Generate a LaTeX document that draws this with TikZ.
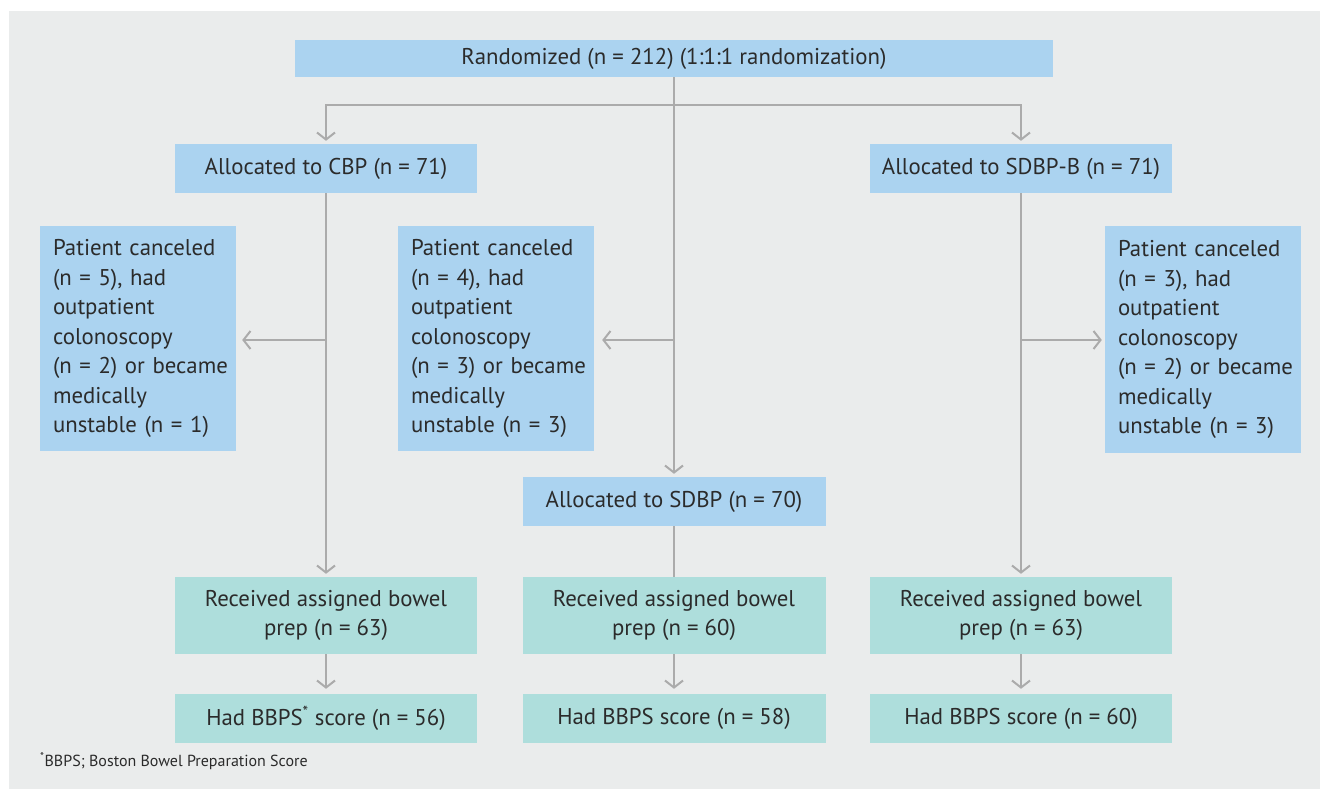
\documentclass[tikz,border=0pt]{standalone}
\usepackage{fontspec}
\setmainfont{PT Sans}
\usetikzlibrary{arrows.meta}
\definecolor{bgc}{HTML}{EAECEC}
\definecolor{boxb}{HTML}{ABD3F0}
\definecolor{boxt}{HTML}{AEDEDC}
\definecolor{lnc}{HTML}{ABABAB}
\definecolor{txc}{HTML}{2B2B2B}
\tikzset{
  bx/.style={fill=boxb, draw=none, inner sep=0pt, text=txc, font=\fontsize{22.8}{29.5}\selectfont},
  tbx/.style={bx, fill=boxt},
  cbx/.style={bx, minimum width=196pt, minimum height=225pt, text width=170pt, align=left},
  ln/.style={draw=lnc, line width=2pt},
  arr/.style={ln, -{Straight Barb[length=7pt,width=18pt,line width=2pt]}, shorten >=3pt},
}
\begin{document}
\begin{tikzpicture}[x=1pt,y=-1pt]
\useasboundingbox (0,0) rectangle (1320,789);
\fill[white] (0,0) rectangle (1320,789);
\fill[bgc] (9,11) rectangle (1320,789);

\node[bx, minimum width=758pt, minimum height=37pt] (rand) at (674,58.5) {Randomized (n = 212) (1:1:1 randomization)};
\node[bx, minimum width=302pt, minimum height=49pt] (cbp) at (326,168.5) {Allocated to CBP (n = 71)};
\node[bx, minimum width=302pt, minimum height=49pt] (sdbpb) at (1021,168.5) {Allocated to SDBP-B (n = 71)};

\node[cbx] (can1) at (138,338.5) {Patient canceled\\(n = 5), had\\outpatient\\colonoscopy\\\mbox{(n = 2) or became}\\medically\\unstable (n = 1)};
\node[cbx] (can2) at (496,338.5) {Patient canceled\\(n = 4), had\\outpatient\\colonoscopy\\\mbox{(n = 3) or became}\\medically\\unstable (n = 3)};
\node[cbx, minimum height=227pt] (can3) at (1203,339.5) {Patient canceled\\(n = 3), had\\outpatient\\colonoscopy\\\mbox{(n = 2) or became}\\medically\\unstable (n = 3)};

\node[bx, minimum width=303pt, minimum height=49pt] (sdbp) at (674,501.5) {Allocated to SDBP (n = 70)};

\node[tbx, minimum width=302pt, minimum height=77pt, align=center] (rec1) at (326,615.5) {Received assigned bowel\\prep (n = 63)};
\node[tbx, minimum width=303pt, minimum height=77pt, align=center] (rec2) at (674,615.5) {Received assigned bowel\\prep (n = 60)};
\node[tbx, minimum width=302pt, minimum height=77pt, align=center] (rec3) at (1021,615.5) {Received assigned bowel\\prep (n = 63)};

\node[tbx, minimum width=302pt, minimum height=49pt] (had1) at (326,718.5) {Had BBPS\textsuperscript{*} score (n = 56)};
\node[tbx, minimum width=303pt, minimum height=49pt] (had2) at (674,718.5) {Had BBPS score (n = 58)};
\node[tbx, minimum width=302pt, minimum height=49pt] (had3) at (1021,718.5) {Had BBPS score (n = 60)};

\node[anchor=west, inner sep=0pt, text=txc, font=\fontsize{16}{18}\selectfont] (foot) at (40,761) {\textsuperscript{*}BBPS; Boston Bowel Preparation Score};

\coordinate (jt) at (674,105);
\coordinate (b1) at (326,340);
\coordinate (b2) at (674,340);
\coordinate (b3) at (1021,340);

\draw[ln] (rand.south) -- (jt);
\draw[arr] (jt) -| (cbp.north);
\draw[arr] (jt) -| (sdbpb.north);
\draw[arr] (jt) -- (sdbp.north);

\draw[arr] (cbp.south) -- (rec1.north);
\draw[arr] (sdbpb.south) -- (rec3.north);
\draw[ln] (sdbp.south) -- (rec2.north);

\draw[arr, shorten >=6pt] (b1) -- (can1.east |- b1);
\draw[arr, shorten >=8pt] (b2) -- (can2.east |- b2);
\draw[arr] (b3) -- (can3.west |- b3);

\draw[arr, shorten >=5pt] (rec1.south) -- (had1.north);
\draw[arr, shorten >=5pt] (rec2.south) -- (had2.north);
\draw[arr, shorten >=5pt] (rec3.south) -- (had3.north);
\end{tikzpicture}
\end{document}
